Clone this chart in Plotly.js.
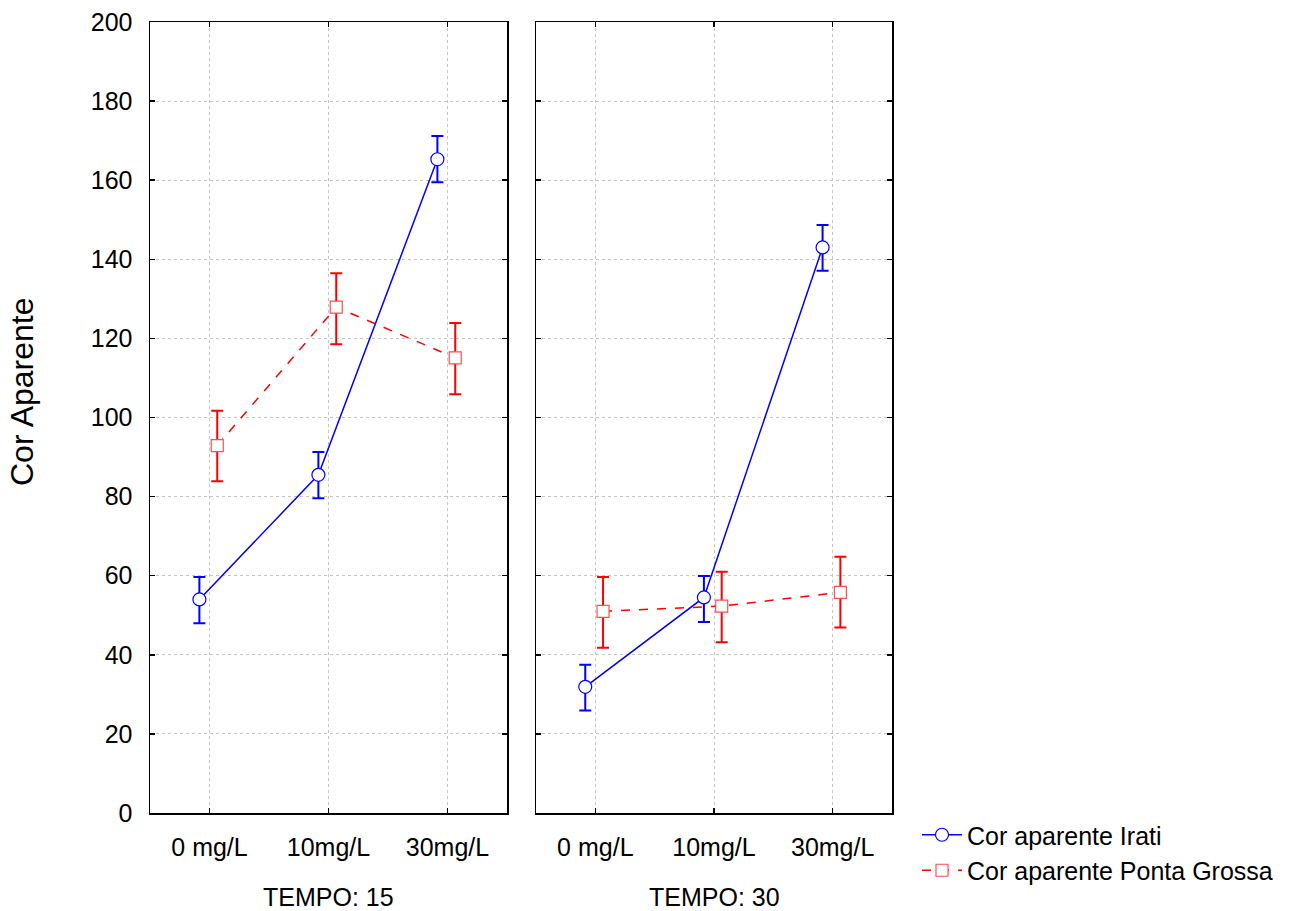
<!DOCTYPE html>
<html>
<head>
<meta charset="utf-8">
<script src="https://cdn.plot.ly/plotly-3.0.1.min.js"></script>
<style>html,body{margin:0;padding:0;background:#fff;}#chart{width:1291px;height:911px;}</style>
</head>
<body>
<div id="chart"></div>
<script>
// Data
const categories = ["0 mg/L", "10mg/L", "30mg/L"];
const panels = ["TEMPO: 15", "TEMPO: 30"];
// Cor aparente Irati
const irati_t15 = [54.0, 85.5, 165.3];
const irati_t15_hi = [59.7, 91.3, 171.2];
const irati_t15_lo = [48.0, 79.6, 159.5];
const irati_t30 = [31.9, 54.5, 143.0];
const irati_t30_hi = [37.5, 59.9, 148.7];
const irati_t30_lo = [25.9, 48.3, 137.1];
// Cor aparente Ponta Grossa
const pg_t15 = [92.9, 127.9, 115.1];
const pg_t15_hi = [101.7, 136.5, 123.9];
const pg_t15_lo = [83.9, 118.5, 105.9];
const pg_t30 = [51.0, 52.3, 55.8];
const pg_t30_hi = [59.7, 61.0, 64.8];
const pg_t30_lo = [41.8, 43.2, 46.9];
const seriesNames = ["Cor aparente Irati", "Cor aparente Ponta Grossa"];

const OFF_IRATI = -0.085, OFF_PG = 0.065;
const idx = categories.map((c, i) => i);
const BLUE = "#0000ff", RED = "#ff0000";

function trace(name, vals, hi, lo, off, xa, ya, isIrati, showlegend) {
  return {
    type: "scatter", mode: "lines+markers", name: name,
    x: idx.map(i => i + off), y: vals, xaxis: xa, yaxis: ya,
    showlegend: showlegend,
    line: {color: isIrati ? BLUE : RED, width: 1.5, dash: isIrati ? "solid" : "dash"},
    marker: {symbol: isIrati ? "circle" : "square", size: isIrati ? 13 : 12,
             color: "#ffffff", line: {color: isIrati ? BLUE : "#ff5050", width: 1.2}},
    error_y: {type: "data", symmetric: false,
              array: vals.map((v, i) => hi[i] - v), arrayminus: vals.map((v, i) => v - lo[i]),
              color: isIrati ? BLUE : RED, thickness: 2, width: 6}
  };
}

const data = [
  trace(seriesNames[0], irati_t15, irati_t15_hi, irati_t15_lo, OFF_IRATI, "x", "y", true, true),
  trace(seriesNames[1], pg_t15, pg_t15_hi, pg_t15_lo, OFF_PG, "x", "y", false, true),
  trace(seriesNames[0], irati_t30, irati_t30_hi, irati_t30_lo, OFF_IRATI, "x2", "y2", true, false),
  trace(seriesNames[1], pg_t30, pg_t30_hi, pg_t30_lo, OFF_PG, "x2", "y2", false, false)
];

const FONT = "Liberation Sans, Arial, sans-serif";
const FS = 25;
const xaxisBase = {
  range: [-0.5, 2.5], tickmode: "array", tickvals: idx, ticktext: categories,
  showgrid: true, gridcolor: "#c4c4c4", griddash: "dot", gridwidth: 1,
  showline: true, linecolor: "#000", linewidth: 1.5, mirror: "ticks",
  ticks: "inside", ticklen: 5, tickcolor: "#000", tickwidth: 1.5,
  zeroline: false, tickfont: {family: FONT, size: FS, color: "#000"},
  ticklabelstandoff: 11, fixedrange: true
};
const yaxisBase = {
  range: [0, 200], tickmode: "array", tickvals: [0,20,40,60,80,100,120,140,160,180,200],
  showgrid: true, gridcolor: "#c4c4c4", griddash: "dot", gridwidth: 1,
  showline: true, linecolor: "#000", linewidth: 1.5, mirror: "ticks",
  ticks: "inside", ticklen: 5, tickcolor: "#000", tickwidth: 1.5,
  zeroline: false, tickfont: {family: FONT, size: FS, color: "#000"},
  ticklabelstandoff: 11, domain: [1 - 813/911, 1 - 22/911], fixedrange: true
};

const layout = {
  width: 1291, height: 911,
  margin: {l: 0, r: 0, t: 0, b: 0},
  paper_bgcolor: "#fff", plot_bgcolor: "#fff",
  font: {family: FONT, color: "#000"},
  xaxis: Object.assign({}, xaxisBase, {domain: [150/1291, 507/1291], anchor: "y"}),
  xaxis2: Object.assign({}, xaxisBase, {domain: [536/1291, 892/1291], anchor: "y2"}),
  yaxis: Object.assign({}, yaxisBase, {anchor: "x"}),
  yaxis2: Object.assign({}, yaxisBase, {anchor: "x2", showticklabels: false}),
  showlegend: true,
  legend: {x: 917/1291, y: 1 - 812/911, xanchor: "left", yanchor: "top",
           font: {family: FONT, size: FS, color: "#000"}, bgcolor: "rgba(0,0,0,0)",
           tracegroupgap: 0, itemwidth: 40},
  annotations: [
    {text: panels[0], x: 328.5/1291, y: 1 - 897/911, xref: "paper", yref: "paper",
     xanchor: "center", yanchor: "middle", showarrow: false, font: {family: FONT, size: FS, color: "#000"}},
    {text: panels[1], x: 714/1291, y: 1 - 897/911, xref: "paper", yref: "paper",
     xanchor: "center", yanchor: "middle", showarrow: false, font: {family: FONT, size: FS, color: "#000"}},
    {text: "Cor Aparente", x: 22/1291, y: 1 - 392/911, xref: "paper", yref: "paper", textangle: -90,
     xanchor: "center", yanchor: "middle", showarrow: false, font: {family: FONT, size: 32, color: "#000"}}
  ]
};

Plotly.newPlot("chart", data, layout, {displayModeBar: false, staticPlot: true});
</script>
</body>
</html>
